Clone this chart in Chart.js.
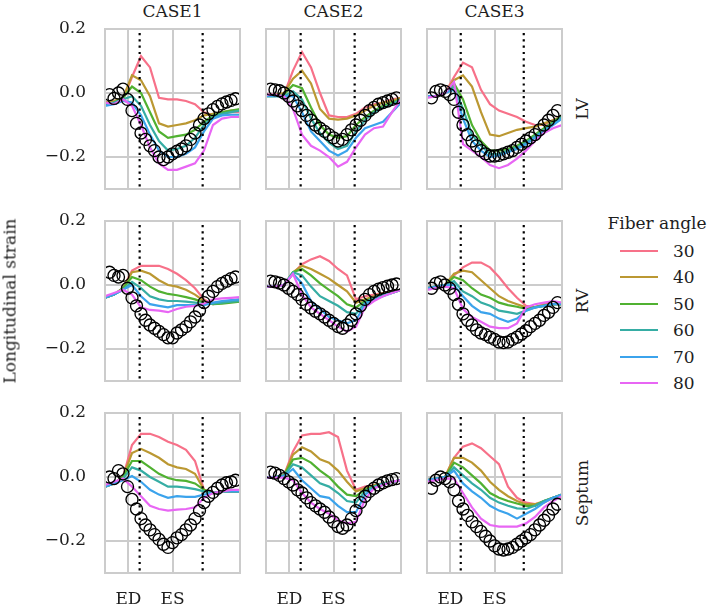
<!DOCTYPE html>
<html><head><meta charset="utf-8">
<script src="https://cdn.jsdelivr.net/npm/chart.js@4.4.0/dist/chart.umd.min.js"></script>
<style>
html,body{margin:0;padding:0;background:#fff;}
#root{position:relative;width:709px;height:606px;overflow:hidden;font-family:"DejaVu Serif",serif;color:#1e1e1e;}
canvas{position:absolute;}
.t{position:absolute;white-space:nowrap;font-size:17px;line-height:1;transform:translate(-50%,-50%);}
.r{transform:translate(-50%,-50%) rotate(-90deg);}
.sw{position:absolute;height:2px;}
</style></head><body><div id="root"></div>
<script>
// ---------------- data ----------------
const CASES = ['CASE1', 'CASE2', 'CASE3'];
const REGIONS = ['LV', 'RV', 'Septum'];
const FIBER_ANGLES = [30, 40, 50, 60, 70, 80];
const COLORS = ['#f77189', '#bb9832', '#50b131', '#36ada4', '#3ba3ec', '#e866f4'];
const X_LINE = [0, 2, 4, 6, 8, 10, 12, 14, 16, 18, 20, 22, 24, 26, 28, 30];
const X_OBS = [1, 2, 3, 4, 5, 6, 7, 8, 9, 10, 11, 12, 13, 14, 15, 16, 17, 18, 19, 20, 21, 22, 23, 24, 25, 26, 27, 28, 29];
const X_TICKS = [5.2, 15];
const X_TICK_LABELS = ['ED', 'ES'];
const Y_TICKS = [-0.2, 0, 0.2];
const Y_TICK_LABELS = ['\u22120.2', '0.0', '0.2'];
const Y_MIN = -0.3, Y_MAX = 0.2, X_MIN = 0, X_MAX = 30;
// dotted event lines per case (x positions)
const EVENTS_CASE1 = [7.7, 21.7];
const EVENTS_CASE2 = [7.7, 19.7];
const EVENTS_CASE3 = [7.5, 21.5];

// simulated curves, one row per fiber angle (30..80)
const LV_CASE1 = [
  [-0.03,-0.025,-0.02,0.05,0.115,0.08,-0.015,-0.02,-0.02,-0.025,-0.035,-0.06,-0.07,-0.065,-0.06,-0.06],
  [-0.03,-0.025,-0.015,0.055,0.04,-0.01,-0.095,-0.105,-0.1,-0.095,-0.085,-0.07,-0.065,-0.06,-0.055,-0.055],
  [-0.035,-0.03,-0.015,0.02,0.0,-0.06,-0.12,-0.14,-0.135,-0.13,-0.115,-0.09,-0.07,-0.06,-0.055,-0.05],
  [-0.035,-0.03,-0.02,-0.01,-0.04,-0.1,-0.15,-0.18,-0.175,-0.165,-0.14,-0.1,-0.075,-0.065,-0.06,-0.055],
  [-0.04,-0.035,-0.025,-0.03,-0.07,-0.13,-0.18,-0.2,-0.2,-0.19,-0.17,-0.12,-0.08,-0.07,-0.068,-0.068],
  [-0.03,-0.035,-0.02,-0.04,-0.1,-0.17,-0.22,-0.24,-0.24,-0.23,-0.22,-0.18,-0.1,-0.08,-0.075,-0.075]
];
const LV_CASE1_OBS = [-0.005,-0.017,0.0,0.012,-0.02,-0.055,-0.095,-0.125,-0.145,-0.165,-0.18,-0.2,-0.208,-0.2,-0.19,-0.182,-0.175,-0.165,-0.145,-0.125,-0.1,-0.08,-0.065,-0.052,-0.042,-0.034,-0.028,-0.023,-0.018];

const LV_CASE2 = [
  [-0.005,-0.005,-0.005,0.07,0.128,0.08,0.0,-0.07,-0.075,-0.075,-0.065,-0.045,-0.035,-0.03,-0.02,-0.015],
  [-0.005,-0.005,0.0,0.045,0.07,0.03,-0.05,-0.08,-0.083,-0.08,-0.07,-0.055,-0.04,-0.03,-0.025,-0.015],
  [-0.01,-0.01,-0.005,0.025,0.015,-0.045,-0.1,-0.13,-0.14,-0.135,-0.1,-0.075,-0.055,-0.04,-0.03,-0.02],
  [-0.01,-0.01,-0.01,0.005,-0.02,-0.08,-0.125,-0.155,-0.175,-0.165,-0.12,-0.085,-0.06,-0.045,-0.035,-0.02],
  [-0.01,-0.01,-0.01,-0.01,-0.06,-0.12,-0.15,-0.18,-0.195,-0.18,-0.14,-0.11,-0.1,-0.09,-0.06,-0.03],
  [-0.005,-0.005,-0.01,-0.05,-0.13,-0.165,-0.18,-0.2,-0.23,-0.215,-0.17,-0.13,-0.11,-0.105,-0.06,-0.02]
];
const LV_CASE2_OBS = [0.012,0.01,0.007,0.0,-0.01,-0.025,-0.04,-0.055,-0.07,-0.085,-0.1,-0.11,-0.12,-0.13,-0.14,-0.15,-0.145,-0.13,-0.115,-0.1,-0.085,-0.07,-0.055,-0.045,-0.035,-0.03,-0.025,-0.02,-0.015];

const LV_CASE3 = [
  [-0.01,-0.01,0.0,0.05,0.095,0.08,0.01,-0.035,-0.055,-0.065,-0.075,-0.09,-0.1,-0.1,-0.085,-0.07],
  [-0.01,-0.01,0.0,0.04,0.055,0.02,-0.06,-0.13,-0.135,-0.125,-0.115,-0.11,-0.105,-0.095,-0.085,-0.075],
  [-0.01,-0.01,0.0,0.03,-0.02,-0.1,-0.15,-0.18,-0.18,-0.175,-0.165,-0.15,-0.13,-0.11,-0.09,-0.07],
  [-0.01,-0.01,0.0,0.02,-0.05,-0.13,-0.165,-0.19,-0.19,-0.18,-0.17,-0.155,-0.135,-0.115,-0.095,-0.075],
  [-0.01,-0.01,0.0,0.01,-0.08,-0.15,-0.18,-0.2,-0.195,-0.185,-0.175,-0.16,-0.14,-0.12,-0.1,-0.08],
  [-0.015,-0.01,0.0,0.035,-0.16,-0.18,-0.2,-0.225,-0.235,-0.225,-0.205,-0.18,-0.15,-0.125,-0.11,-0.1]
];
const LV_CASE3_OBS = [-0.015,0.005,0.01,0.005,-0.005,-0.02,-0.06,-0.1,-0.13,-0.15,-0.165,-0.18,-0.19,-0.197,-0.197,-0.195,-0.19,-0.185,-0.18,-0.17,-0.16,-0.15,-0.14,-0.13,-0.115,-0.1,-0.085,-0.07,-0.055];

const RV_CASE1 = [
  [-0.04,-0.03,-0.01,0.045,0.06,0.06,0.06,0.05,0.035,0.015,-0.01,-0.045,-0.06,-0.055,-0.05,-0.045],
  [-0.04,-0.03,-0.01,0.04,0.045,0.035,0.015,0.0,-0.005,-0.015,-0.03,-0.05,-0.06,-0.055,-0.05,-0.048],
  [-0.04,-0.03,-0.01,0.025,0.015,-0.005,-0.02,-0.028,-0.032,-0.038,-0.045,-0.055,-0.06,-0.058,-0.055,-0.052],
  [-0.04,-0.03,-0.015,0.01,-0.01,-0.035,-0.045,-0.05,-0.05,-0.052,-0.055,-0.06,-0.058,-0.055,-0.052,-0.05],
  [-0.04,-0.03,-0.015,0.0,-0.035,-0.06,-0.065,-0.07,-0.063,-0.063,-0.063,-0.063,-0.055,-0.05,-0.047,-0.045],
  [-0.035,-0.025,-0.015,-0.03,-0.07,-0.078,-0.08,-0.085,-0.075,-0.068,-0.065,-0.058,-0.045,-0.042,-0.04,-0.038]
];
const RV_CASE1_OBS = [0.04,0.03,0.025,0.03,-0.01,-0.04,-0.065,-0.09,-0.11,-0.125,-0.135,-0.145,-0.155,-0.165,-0.165,-0.15,-0.14,-0.13,-0.115,-0.1,-0.08,-0.055,-0.035,-0.02,-0.005,0.005,0.012,0.02,0.025];

const RV_CASE2 = [
  [-0.005,-0.005,0.0,0.035,0.065,0.08,0.09,0.075,0.05,0.03,-0.045,-0.035,-0.03,-0.025,-0.02,-0.015],
  [-0.005,-0.005,0.0,0.04,0.06,0.05,0.035,0.02,0.0,-0.02,-0.055,-0.045,-0.035,-0.025,-0.02,-0.015],
  [-0.005,-0.005,0.0,0.04,0.05,0.03,0.005,-0.015,-0.035,-0.06,-0.07,-0.05,-0.04,-0.03,-0.025,-0.015],
  [-0.005,-0.005,0.0,0.04,0.03,-0.005,-0.035,-0.05,-0.065,-0.085,-0.09,-0.055,-0.04,-0.03,-0.025,-0.015],
  [-0.005,-0.005,0.0,0.035,0.005,-0.05,-0.075,-0.1,-0.11,-0.12,-0.11,-0.06,-0.045,-0.035,-0.025,-0.015],
  [-0.005,-0.005,0.0,0.035,-0.03,-0.07,-0.09,-0.11,-0.13,-0.145,-0.13,-0.07,-0.05,-0.035,-0.025,-0.015]
];
const RV_CASE2_OBS = [0.012,0.01,0.006,0.0,-0.01,-0.02,-0.03,-0.045,-0.06,-0.072,-0.082,-0.09,-0.1,-0.11,-0.12,-0.13,-0.135,-0.125,-0.11,-0.09,-0.065,-0.045,-0.03,-0.02,-0.013,-0.008,-0.004,0.0,0.003];

const RV_CASE3 = [
  [-0.01,-0.005,0.0,0.03,0.055,0.07,0.07,0.055,0.025,-0.01,-0.04,-0.065,-0.07,-0.06,-0.06,-0.06],
  [-0.01,-0.005,0.0,0.035,0.045,0.04,0.015,-0.01,-0.035,-0.05,-0.06,-0.07,-0.068,-0.063,-0.06,-0.06],
  [-0.01,-0.005,0.0,0.025,0.015,-0.01,-0.03,-0.04,-0.055,-0.063,-0.068,-0.075,-0.07,-0.065,-0.06,-0.06],
  [-0.01,-0.005,0.0,0.012,-0.02,-0.035,-0.055,-0.065,-0.08,-0.085,-0.09,-0.08,-0.07,-0.065,-0.06,-0.06],
  [-0.01,-0.005,0.0,0.0,-0.035,-0.065,-0.085,-0.09,-0.105,-0.115,-0.105,-0.08,-0.07,-0.065,-0.06,-0.06],
  [-0.015,-0.01,-0.005,-0.01,-0.075,-0.1,-0.115,-0.13,-0.135,-0.135,-0.12,-0.07,-0.06,-0.055,-0.05,-0.055]
];
const RV_CASE3_OBS = [-0.01,0.005,0.01,0.0,-0.01,-0.03,-0.06,-0.09,-0.11,-0.125,-0.14,-0.15,-0.155,-0.163,-0.17,-0.178,-0.18,-0.178,-0.17,-0.163,-0.153,-0.143,-0.13,-0.12,-0.11,-0.095,-0.085,-0.07,-0.055];

const SEPTUM_CASE1 = [
  [-0.03,-0.02,0.0,0.1,0.135,0.135,0.125,0.11,0.1,0.085,0.05,-0.04,-0.05,-0.045,-0.045,-0.045],
  [-0.03,-0.02,0.0,0.075,0.088,0.075,0.06,0.04,0.03,0.025,0.01,-0.04,-0.05,-0.045,-0.045,-0.045],
  [-0.03,-0.02,0.0,0.05,0.05,0.03,0.01,-0.003,-0.01,-0.012,-0.02,-0.04,-0.05,-0.045,-0.045,-0.045],
  [-0.03,-0.02,-0.005,0.03,0.02,0.0,-0.015,-0.03,-0.03,-0.033,-0.038,-0.045,-0.05,-0.045,-0.045,-0.045],
  [-0.03,-0.02,-0.01,0.003,-0.015,-0.04,-0.055,-0.065,-0.06,-0.062,-0.062,-0.055,-0.05,-0.045,-0.045,-0.045],
  [-0.025,-0.015,-0.005,-0.03,-0.06,-0.09,-0.1,-0.105,-0.102,-0.1,-0.095,-0.065,-0.05,-0.045,-0.04,-0.04]
];
const SEPTUM_CASE1_OBS = [0.0,-0.005,0.02,0.01,-0.03,-0.07,-0.1,-0.13,-0.15,-0.165,-0.18,-0.195,-0.21,-0.22,-0.205,-0.19,-0.18,-0.165,-0.15,-0.13,-0.105,-0.08,-0.06,-0.048,-0.035,-0.025,-0.018,-0.015,-0.01];

const SEPTUM_CASE2 = [
  [-0.002,0.0,0.005,0.08,0.13,0.135,0.135,0.14,0.125,0.02,-0.04,-0.03,-0.025,-0.02,-0.015,-0.01],
  [-0.002,0.0,0.005,0.07,0.093,0.08,0.055,0.045,0.02,-0.015,-0.045,-0.035,-0.025,-0.02,-0.015,-0.01],
  [-0.002,0.0,0.005,0.055,0.06,0.045,0.02,0.0,-0.03,-0.055,-0.06,-0.04,-0.03,-0.02,-0.015,-0.01],
  [-0.002,0.0,0.005,0.04,0.03,0.005,-0.02,-0.03,-0.05,-0.075,-0.08,-0.045,-0.03,-0.02,-0.015,-0.01],
  [-0.002,0.0,0.003,0.025,-0.01,-0.035,-0.06,-0.065,-0.09,-0.11,-0.11,-0.055,-0.035,-0.025,-0.015,-0.01],
  [-0.002,-0.002,-0.002,-0.01,-0.05,-0.08,-0.1,-0.115,-0.135,-0.145,-0.14,-0.07,-0.035,-0.025,-0.015,-0.01]
];
const SEPTUM_CASE2_OBS = [0.015,0.012,0.005,-0.005,-0.015,-0.025,-0.04,-0.05,-0.065,-0.08,-0.09,-0.1,-0.11,-0.125,-0.14,-0.155,-0.16,-0.15,-0.13,-0.105,-0.08,-0.06,-0.045,-0.035,-0.025,-0.018,-0.012,-0.008,-0.005];

const SEPTUM_CASE3 = [
  [-0.01,-0.005,0.0,0.06,0.095,0.105,0.09,0.065,0.04,-0.03,-0.065,-0.08,-0.085,-0.08,-0.065,-0.055],
  [-0.01,-0.005,0.0,0.06,0.06,0.045,0.02,-0.015,-0.04,-0.06,-0.075,-0.085,-0.085,-0.075,-0.065,-0.055],
  [-0.01,-0.005,0.0,0.045,0.03,0.005,-0.02,-0.05,-0.065,-0.075,-0.083,-0.09,-0.09,-0.075,-0.065,-0.055],
  [-0.01,-0.005,0.0,0.03,0.005,-0.02,-0.04,-0.065,-0.08,-0.09,-0.098,-0.1,-0.09,-0.075,-0.065,-0.055],
  [-0.01,-0.005,0.0,0.02,-0.02,-0.045,-0.065,-0.09,-0.105,-0.115,-0.13,-0.115,-0.1,-0.08,-0.065,-0.055],
  [-0.015,-0.01,-0.005,-0.005,-0.05,-0.095,-0.13,-0.15,-0.155,-0.155,-0.155,-0.145,-0.125,-0.095,-0.075,-0.06]
];
const SEPTUM_CASE3_OBS = [-0.035,-0.01,0.0,-0.005,-0.015,-0.04,-0.075,-0.1,-0.12,-0.14,-0.155,-0.17,-0.185,-0.2,-0.215,-0.225,-0.228,-0.225,-0.22,-0.21,-0.2,-0.19,-0.18,-0.165,-0.15,-0.135,-0.12,-0.1,-0.085];

// ---------------- layout ----------------
const PANELS = [
  [[LV_CASE1, LV_CASE1_OBS, EVENTS_CASE1], [LV_CASE2, LV_CASE2_OBS, EVENTS_CASE2], [LV_CASE3, LV_CASE3_OBS, EVENTS_CASE3]],
  [[RV_CASE1, RV_CASE1_OBS, EVENTS_CASE1], [RV_CASE2, RV_CASE2_OBS, EVENTS_CASE2], [RV_CASE3, RV_CASE3_OBS, EVENTS_CASE3]],
  [[SEPTUM_CASE1, SEPTUM_CASE1_OBS, EVENTS_CASE1], [SEPTUM_CASE2, SEPTUM_CASE2_OBS, EVENTS_CASE2], [SEPTUM_CASE3, SEPTUM_CASE3_OBS, EVENTS_CASE3]]
];
const COL_LEFT = [105, 266, 427];
const ROW_TOP = [29, 221, 413];
const PW = 135, PH = 160;
const GRID = '#cccccc';
const TEXT = '#1e1e1e';
const FONT = { family: "'DejaVu Serif', serif", size: 17 };

Chart.defaults.font.family = FONT.family;
Chart.defaults.font.size = FONT.size;
Chart.defaults.color = TEXT;

const root = document.getElementById('root');

const framePlugin = {
  id: 'frame',
  afterDatasetsDraw(chart) {
    const a = chart.chartArea, ctx = chart.ctx;
    ctx.save();
    ctx.strokeStyle = GRID;
    ctx.lineWidth = 2;
    ctx.strokeRect(a.left, a.top, a.right - a.left, a.bottom - a.top);
    ctx.restore();
  }
};

function addText(txt, x, y, cls) {
  const d = document.createElement('div');
  d.className = 't' + (cls ? ' ' + cls : '');
  d.textContent = txt;
  d.style.left = x + 'px';
  d.style.top = y + 'px';
  root.appendChild(d);
  return d;
}

function zeroPad(s) { s.paddingTop = 0; s.paddingBottom = 0; s.paddingLeft = 0; s.paddingRight = 0; }

for (let r = 0; r < 3; r++) {
  for (let c = 0; c < 3; c++) {
    const [lines, obs, events] = PANELS[r][c];
    const padL = c === 0 ? 100 : 8, padT = 8, padR = 8, padB = r === 2 ? 40 : 8;
    const cv = document.createElement('canvas');
    cv.width = PW + padL + padR;
    cv.height = PH + padT + padB;
    cv.style.left = (COL_LEFT[c] - padL) + 'px';
    cv.style.top = (ROW_TOP[r] - padT) + 'px';
    cv.style.width = cv.width + 'px';
    cv.style.height = cv.height + 'px';
    root.appendChild(cv);

    const datasets = [];
    datasets.push({
      data: obs.map((y, i) => ({ x: X_OBS[i], y })),
      showLine: false,
      pointRadius: 6,
      pointBorderWidth: 1.35,
      pointBorderColor: '#000',
      pointBackgroundColor: 'rgba(0,0,0,0)',
      clip: 0,
      order: 0
    });
    events.forEach(ex => datasets.push({
      data: [{ x: ex, y: Y_MAX }, { x: ex, y: Y_MIN }],
      borderColor: '#000',
      borderWidth: 2.2,
      borderDash: [2.2, 4.1],
      borderDashOffset: -4,
      pointRadius: 0,
      clip: 0,
      order: 1
    }));
    lines.forEach((ys, k) => datasets.push({
      data: ys.map((y, i) => ({ x: X_LINE[i], y })),
      borderColor: COLORS[k],
      borderWidth: 2.2,
      pointRadius: 0,
      tension: 0,
      clip: 0,
      order: 10 - k
    }));

    new Chart(cv, {
      type: 'line',
      data: { datasets },
      plugins: [framePlugin],
      options: {
        responsive: false,
        animation: false,
        devicePixelRatio: 1,
        events: [],
        layout: { padding: { left: 0, top: padT, right: padR, bottom: 0 } },
        plugins: { legend: { display: false }, tooltip: { enabled: false } },
        scales: {
          x: {
            type: 'linear', min: X_MIN, max: X_MAX,
            afterBuildTicks: s => { s.ticks = X_TICKS.map(v => ({ value: v })); },
            afterFit: s => { s.height = padB; zeroPad(s); },
            ticks: {
              display: r === 2, autoSkip: false, maxRotation: 0, padding: 16,
              callback: (v, i) => X_TICK_LABELS[i], color: TEXT, font: FONT
            },
            grid: { color: GRID, lineWidth: 2, drawTicks: false },
            border: { display: false }
          },
          y: {
            type: 'linear', min: Y_MIN, max: Y_MAX,
            afterBuildTicks: s => { s.ticks = Y_TICKS.map(v => ({ value: v })); },
            afterFit: s => { s.width = padL; zeroPad(s); },
            ticks: {
              display: c === 0, autoSkip: false, padding: 19,
              callback: (v, i) => Y_TICK_LABELS[i], color: TEXT, font: FONT
            },
            grid: { color: GRID, lineWidth: 2, drawTicks: false },
            border: { display: false }
          }
        }
      }
    });
  }
}

// column titles, row titles, axis label
CASES.forEach((t, c) => addText(t, COL_LEFT[c] + PW / 2, 11));
REGIONS.forEach((t, r) => addText(t, 582, ROW_TOP[r] + PH / 2, 'r'));
addText('Longitudinal strain', 10, 301, 'r');

// legend
addText('Fiber angle', 657, 223);
FIBER_ANGLES.forEach((a, k) => {
  const y = 251 + k * 26.4;
  const sw = document.createElement('div');
  sw.className = 'sw';
  sw.style.left = '620px';
  sw.style.width = '38px';
  sw.style.top = (y - 1) + 'px';
  sw.style.background = COLORS[k];
  root.appendChild(sw);
  const d = addText(String(a), 673, y);
  d.style.transform = 'translate(0,-50%)';
});
</script></body></html>
